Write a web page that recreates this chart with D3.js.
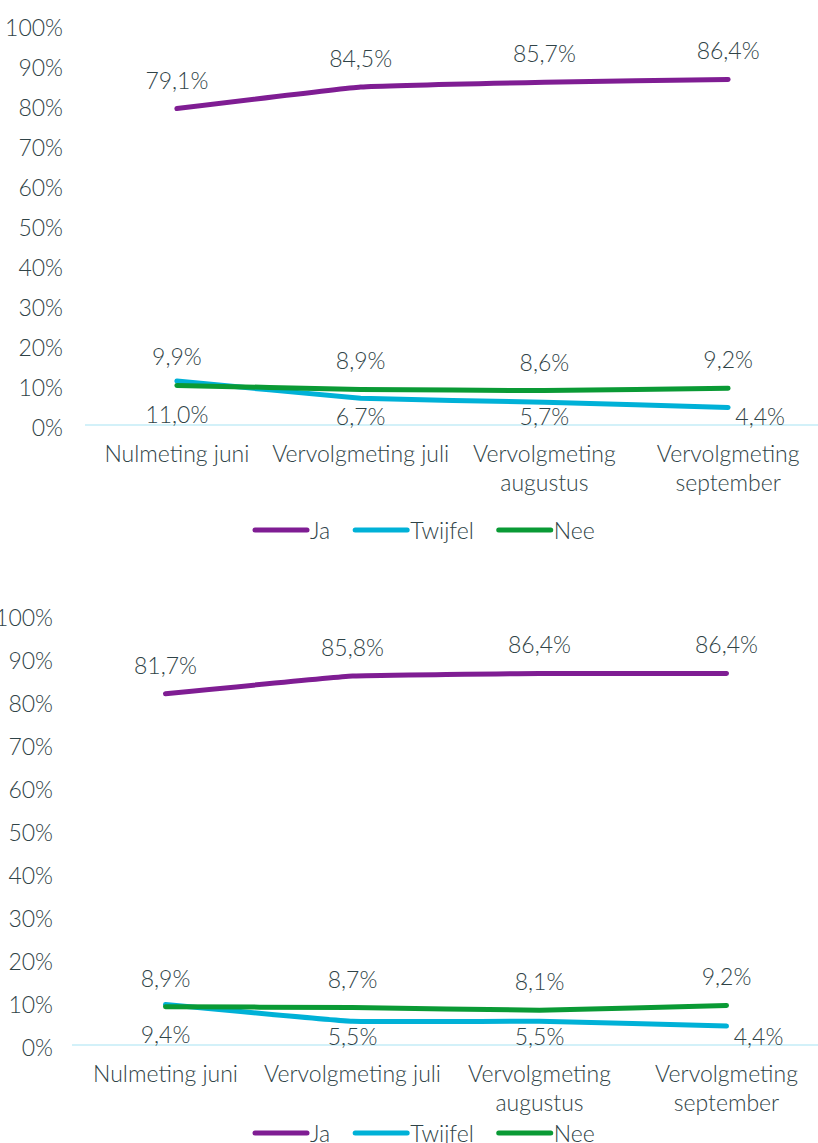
<!DOCTYPE html>
<html>
<head>
  <meta charset="utf-8">
  <title>Ja / Twijfel / Nee</title>
  <script src="https://d3js.org/d3.v7.min.js"></script>
  <style type="text/css">
    body {
      margin: 0;
      background: #ffffff;
    }
    svg text {
      font-family: Lato, "Open Sans", sans-serif;
      font-weight: 300;
      font-size: 23px;
      fill: #2f4347;
    }
  </style>
</head>
<body>
  <div id="chart"></div>

  <script type="text/javascript">
    // categories (x axis), two lines of text each
    var categories = ["Nulmeting juni", "Vervolgmeting juli", "Vervolgmeting augustus", "Vervolgmeting september"];
    var categoryLines = [["Nulmeting juni"], ["Vervolgmeting juli"], ["Vervolgmeting", "augustus"], ["Vervolgmeting", "september"]];
    var seriesNames = ["Ja", "Twijfel", "Nee"];
    var seriesColors = ["#7f1d93", "#00b1d7", "#0a9a35"];
    var yTicks = [0, 10, 20, 30, 40, 50, 60, 70, 80, 90, 100];

    // chart 1
    var ja1 = [79.1, 84.5, 85.7, 86.4];
    var twijfel1 = [11.0, 6.7, 5.7, 4.4];
    var nee1 = [9.9, 8.9, 8.6, 9.2];

    // chart 2
    var ja2 = [81.7, 85.8, 86.4, 86.4];
    var twijfel2 = [9.4, 5.5, 5.5, 4.4];
    var nee2 = [8.9, 8.7, 8.1, 9.2];

    var svg = d3.select("#chart")
      .append("svg")
      .attr("width", 818)
      .attr("height", 1143);

    function fmt(v) {
      return v.toFixed(1).replace(".", ",") + "%";
    }

    function drawChart(opts, ja, twijfel, nee) {
      var g = svg.append("g");

      var x = d3.scaleBand()
        .domain(categories)
        .range([opts.left, 820]);
      var y = d3.scaleLinear()
        .domain([0, 100])
        .range([opts.bottom, opts.top]);
      var cx = function (d, i) { return x(categories[i]) + x.bandwidth() / 2; };

      // y tick labels
      g.selectAll(".ytick")
        .data(yTicks)
        .enter().append("text")
        .attr("class", "ytick")
        .attr("x", opts.labelX)
        .attr("y", function (d) { return y(d) + 2; })
        .attr("text-anchor", "end")
        .attr("dominant-baseline", "central")
        .text(function (d) { return d + "%"; });

      // baseline
      g.append("line")
        .attr("x1", opts.left)
        .attr("x2", 818)
        .attr("y1", y(0))
        .attr("y2", y(0))
        .style("stroke", "#c4ecf7")
        .style("stroke-width", 1.5);

      // category labels
      var cat = g.selectAll(".cat")
        .data(categoryLines)
        .enter().append("text")
        .attr("class", "cat")
        .attr("text-anchor", "middle")
        .attr("dominant-baseline", "central");
      cat.selectAll("tspan")
        .data(function (d, i) { return d.map(function (t) { return { t: t, i: i }; }); })
        .enter().append("tspan")
        .attr("x", function (d) { return x(categories[d.i]) + x.bandwidth() / 2; })
        .attr("y", function (d, j) { return y(0) + 28 + j * 29; })
        .text(function (d) { return d.t; });

      var line = d3.line()
        .x(cx)
        .y(function (d) { return y(d); })
        .curve(d3.curveCardinal.tension(0.75));

      var all = [ja, twijfel, nee];
      all.forEach(function (vals, s) {
        g.append("path")
          .attr("d", line(vals))
          .attr("fill", "none")
          .style("stroke", seriesColors[s])
          .style("stroke-width", 5)
          .style("stroke-linecap", "round")
          .style("stroke-linejoin", "round");
      });

      // labels above for Ja and Nee
      [ja, nee].forEach(function (vals) {
        g.selectAll(null)
          .data(vals)
          .enter().append("text")
          .attr("x", cx)
          .attr("y", function (d) { return y(d) - 29; })
          .attr("text-anchor", "middle")
          .attr("dominant-baseline", "central")
          .text(fmt);
      });

      // Twijfel labels sit just above the baseline, last one pushed right
      g.selectAll(null)
        .data(twijfel)
        .enter().append("text")
        .attr("x", function (d, i) { return cx(d, i) + (i == 3 ? 32 : 0); })
        .attr("y", function (d, i) { return y(0) - (i == 0 ? 11 : 9); })
        .attr("text-anchor", "middle")
        .attr("dominant-baseline", "central")
        .text(fmt);

      // legend
      var lx = 255;
      seriesNames.forEach(function (name, s) {
        g.append("line")
          .attr("x1", lx)
          .attr("x2", lx + 52)
          .attr("y1", opts.legendY)
          .attr("y2", opts.legendY)
          .style("stroke", seriesColors[s])
          .style("stroke-width", 5)
          .style("stroke-linecap", "round");
        var t = g.append("text")
          .attr("x", lx + 55)
          .attr("y", opts.legendY)
          .attr("dominant-baseline", "central")
          .text(name);
        lx = lx + 55 + t.node().getComputedTextLength() + 25;
      });
    }

    drawChart({ left: 85, top: 25, bottom: 425, labelX: 63, legendY: 530 }, ja1, twijfel1, nee1);
    drawChart({ left: 72, top: 615, bottom: 1045, labelX: 53, legendY: 1133 }, ja2, twijfel2, nee2);
  </script>
</body>
</html>
